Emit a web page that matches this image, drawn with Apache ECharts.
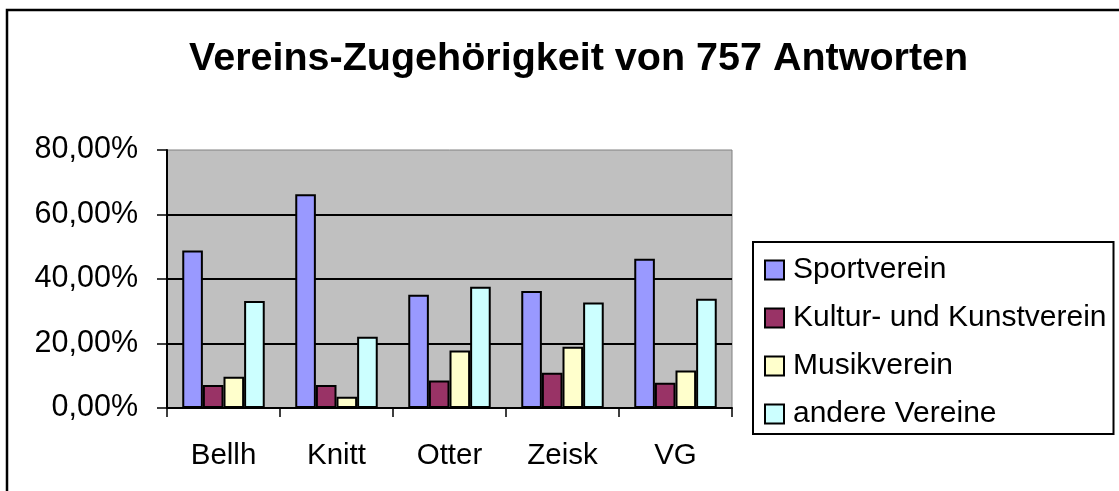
<!DOCTYPE html>
<html>
<head>
<meta charset="utf-8">
<title>Vereins-Zugehörigkeit</title>
<script src="https://cdn.jsdelivr.net/npm/echarts@6/dist/echarts.min.js"></script>
<style>
  html, body { margin: 0; padding: 0; background: #fff; }
  #chart { width: 1119px; height: 491px; }
</style>
</head>
<body>
<div id="chart"></div>
<script>
// Kategorien (Orte) und Anteile in Prozent
const orte = ['Bellh', 'Knitt', 'Otter', 'Zeisk', 'VG']
const sportverein = [48.8, 66.3, 35.1, 36.3, 46.3]
const kulturKunst = [7.1, 7.1, 8.5, 10.9, 7.8]
const musikverein = [9.7, 3.5, 17.8, 19.0, 11.6]
const andereVereine = [33.2, 22.1, 37.6, 32.7, 33.9]
const yTicks = [0, 20, 40, 60, 80]

const font = "'Liberation Sans', Arial, sans-serif"
const chart = echarts.init(document.getElementById('chart'))

const bar = (name, data, color) => ({
  name: name,
  type: 'bar',
  data: data,
  barGap: '0%',
  barCategoryGap: '27%',
  itemStyle: {
    color: color,
    borderColor: '#000',
    borderWidth: 2
  }
})

const option = {
  animation: false,
  backgroundColor: '#fff',
  textStyle: { fontFamily: font },
  graphic: [{
    type: 'rect',
    z: -10,
    shape: { x: 7, y: 10, width: 1200, height: 600 },
    style: { fill: '#fff', stroke: '#000', lineWidth: 2.5 }
  }],
  title: {
    text: 'Vereins-Zugehörigkeit von 757 Antworten',
    left: 184,
    top: 34,
    textStyle: {
      color: '#000',
      fontFamily: font,
      fontSize: 39.5,
      fontWeight: 'bold'
    }
  },
  legend: {
    orient: 'vertical',
    left: 753,
    top: 242,
    padding: [13, 7, 5, 11],
    borderColor: '#000',
    borderWidth: 2,
    backgroundColor: '#fff',
    itemWidth: 19,
    itemHeight: 19,
    itemGap: 18,
    icon: 'rect',
    textStyle: {
      color: '#000',
      fontFamily: font,
      fontSize: 30,
      lineHeight: 30,
      padding: [0, 0, 0, 4]
    }
  },
  grid: {
    left: 167,
    top: 150,
    right: 387,
    bottom: 83,
    show: true,
    backgroundColor: '#C0C0C0',
    borderColor: '#808080',
    borderWidth: 1
  },
  xAxis: {
    type: 'category',
    data: orte,
    axisLine: { lineStyle: { color: '#000', width: 2 } },
    axisTick: { show: true, length: 9, lineStyle: { color: '#000', width: 1.5 } },
    axisLabel: {
      color: '#000',
      fontFamily: font,
      fontSize: 29.5,
      margin: 33
    }
  },
  yAxis: {
    type: 'value',
    min: yTicks[0],
    max: yTicks[yTicks.length - 1],
    interval: 20,
    axisLine: { show: true, lineStyle: { color: '#000', width: 2 } },
    axisTick: { show: true, length: 10, lineStyle: { color: '#000', width: 1.5 } },
    axisLabel: {
      color: '#000',
      fontFamily: font,
      fontSize: 30.5,
      margin: 29,
      formatter: v => v.toFixed(2).replace('.', ',') + '%'
    },
    splitLine: {
      show: true,
      showMinLine: false,
      showMaxLine: false,
      lineStyle: { color: '#000', width: 2 }
    }
  },
  series: [
    bar('Sportverein', sportverein, '#9999FF'),
    bar('Kultur- und Kunstverein', kulturKunst, '#993366'),
    bar('Musikverein', musikverein, '#FFFFCC'),
    bar('andere Vereine', andereVereine, '#CCFFFF')
  ]
}

chart.setOption(option)
</script>
</body>
</html>
